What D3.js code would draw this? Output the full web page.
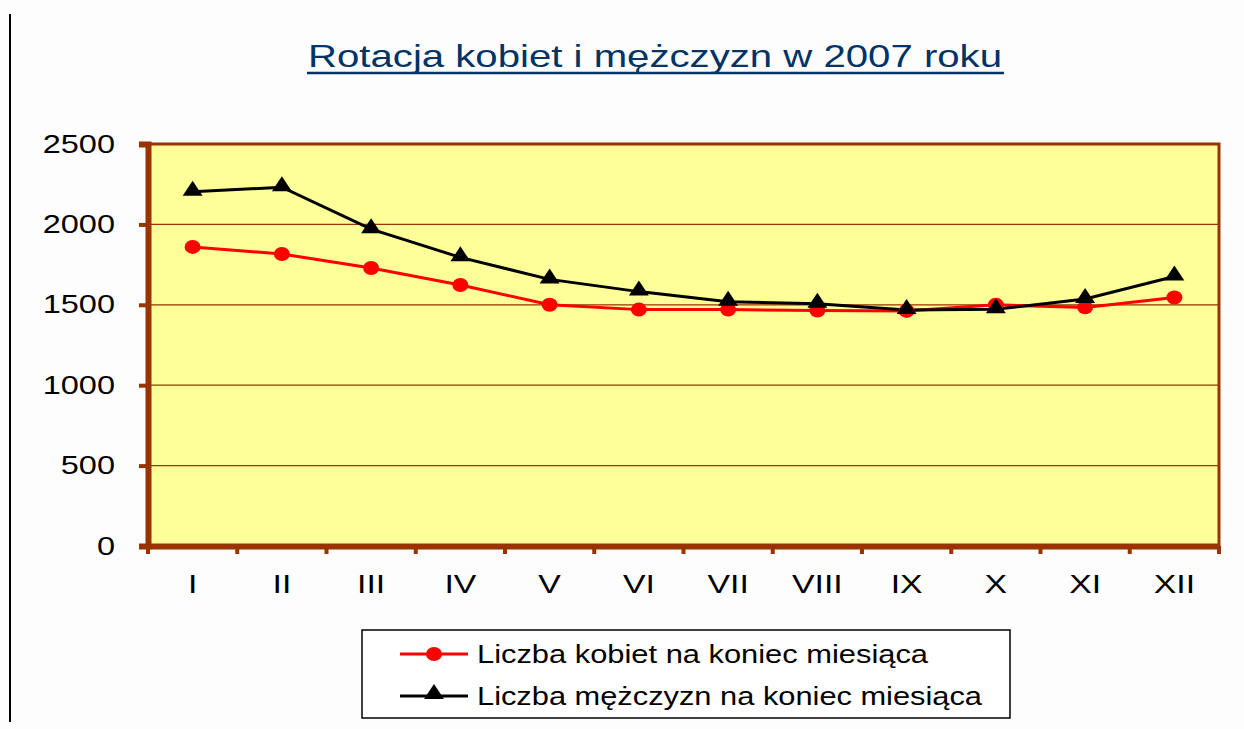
<!DOCTYPE html>
<html>
<head>
<meta charset="utf-8">
<script src="https://cdn.jsdelivr.net/npm/d3@7"></script>
<style>
  body { margin: 0; background: #fdfdfd; }
  svg { font-family: "Liberation Sans", Arial, sans-serif; }
</style>
</head>
<body>
<svg id="chart" width="1244" height="729"></svg>
<script>
var months = ["I", "II", "III", "IV", "V", "VI", "VII", "VIII", "IX", "X", "XI", "XII"];
var kobiety = [1860, 1816, 1729, 1623, 1500, 1470, 1470, 1465, 1462, 1500, 1484, 1545];
var mezczyzni = [2203, 2231, 1970, 1795, 1658, 1582, 1519, 1506, 1468, 1472, 1536, 1676];
var yTicks = [0, 500, 1000, 1500, 2000, 2500];
var seriesNames = ["Liczba kobiet na koniec miesiąca", "Liczba mężczyzn na koniec miesiąca"];

var svg = d3.select("#chart");
var pLeft = 148, pRight = 1219, pTop = 144, pBottom = 546;
var brown = "#993300";

// the source image is stretched sideways, so widen the glyphs a bit
function stretch(sel, f) {
  sel.each(function() {
    var w = this.getComputedTextLength();
    d3.select(this).attr("textLength", w * f).attr("lengthAdjust", "spacingAndGlyphs");
  });
}

var x = d3.scaleBand().domain(months).range([pLeft, pRight]);
var y = d3.scaleLinear().domain([0, 2500]).range([pBottom, pTop]);

// left frame line
svg.append("line").attr("x1", 10).attr("x2", 10).attr("y1", 14).attr("y2", 722)
  .attr("stroke", "#000").attr("stroke-width", 2);

// title
var title = svg.append("text").attr("x", 655).attr("y", 67).attr("text-anchor", "middle")
  .attr("font-size", 32).attr("fill", "#003366")
  .attr("textLength", 694).attr("lengthAdjust", "spacingAndGlyphs")
  .text("Rotacja kobiet i mężczyzn w 2007 roku");
svg.append("line").attr("x1", 307).attr("x2", 1004).attr("y1", 73).attr("y2", 73)
  .attr("stroke", "#003366").attr("stroke-width", 2.5);

// plot area
svg.append("rect").attr("x", pLeft).attr("y", pTop).attr("width", pRight - pLeft).attr("height", pBottom - pTop)
  .attr("fill", "#ffff99").attr("stroke", brown).attr("stroke-width", 3);

svg.selectAll(".grid").data(yTicks.slice(1, -1)).enter().append("line")
  .attr("x1", pLeft).attr("x2", pRight).attr("y1", d => y(d)).attr("y2", d => y(d))
  .attr("stroke", brown).attr("stroke-width", 1.2);

// y axis
var yAxis = svg.append("g").attr("transform", "translate(" + pLeft + ",0)")
  .call(d3.axisLeft(y).tickValues(yTicks).tickFormat(d3.format("d")).tickSize(9).tickPadding(24));
yAxis.select(".domain").attr("stroke", brown).attr("stroke-width", 6);
yAxis.selectAll(".tick line").attr("stroke", brown).attr("stroke-width", 4);
yAxis.selectAll("text").attr("font-size", 25).attr("fill", "#000")
  .attr("font-family", "Liberation Sans, Arial, sans-serif");
stretch(yAxis.selectAll("text"), 1.3);

// x axis
var xTickPos = d3.range(months.length + 1).map(i => pLeft + i * x.step());
var xAxis = svg.append("g").attr("transform", "translate(0," + pBottom + ")")
  .call(d3.axisBottom(x).tickSize(0).tickPadding(29));
xAxis.select(".domain").attr("stroke", brown).attr("stroke-width", 6);
xAxis.selectAll("text").attr("font-size", 26).attr("fill", "#000")
  .attr("font-family", "Liberation Sans, Arial, sans-serif");
stretch(xAxis.selectAll("text"), 1.3);
xAxis.selectAll(".xt").data(xTickPos).enter().append("line")
  .attr("x1", d => d).attr("x2", d => d).attr("y1", 0).attr("y2", 8)
  .attr("stroke", brown).attr("stroke-width", 4);

var line = d3.line().x((d, i) => x(months[i]) + x.bandwidth() / 2).y(d => y(d));
var tri = d3.symbol().type(d3.symbolTriangle).size(130);

svg.append("path").datum(kobiety).attr("d", line).attr("fill", "none")
  .attr("stroke", "#ff0000").attr("stroke-width", 3);
svg.append("path").datum(mezczyzni).attr("d", line).attr("fill", "none")
  .attr("stroke", "#000").attr("stroke-width", 3);

svg.selectAll(".dot").data(kobiety).enter().append("ellipse")
  .attr("cx", (d, i) => x(months[i]) + x.bandwidth() / 2).attr("cy", d => y(d))
  .attr("rx", 8).attr("ry", 7).attr("fill", "#ff0000");
svg.selectAll(".tri").data(mezczyzni).enter().append("path")
  .attr("d", tri)
  .attr("transform", (d, i) => "translate(" + (x(months[i]) + x.bandwidth() / 2) + "," + (y(d) - 1) + ") scale(1.15,1)")
  .attr("fill", "#000");

// legend
var lg = svg.append("g");
lg.append("rect").attr("x", 362).attr("y", 630).attr("width", 648).attr("height", 88)
  .attr("fill", "#fff").attr("stroke", "#000").attr("stroke-width", 1.5);
var rows = [{c: "#ff0000", y: 654, w: 451}, {c: "#000", y: 696, w: 505}];
rows.forEach(function(r, i) {
  lg.append("line").attr("x1", 400).attr("x2", 468).attr("y1", r.y).attr("y2", r.y)
    .attr("stroke", r.c).attr("stroke-width", 3);
  if (i == 0) {
    lg.append("ellipse").attr("cx", 434).attr("cy", r.y).attr("rx", 8).attr("ry", 7).attr("fill", r.c);
  } else {
    lg.append("path").attr("d", tri).attr("transform", "translate(434," + (r.y - 2) + ") scale(1.15,1)").attr("fill", r.c);
  }
  lg.append("text").attr("x", 477).attr("y", r.y + 9).attr("font-size", 25).attr("fill", "#000")
    .attr("textLength", r.w).attr("lengthAdjust", "spacingAndGlyphs")
    .text(seriesNames[i]);
});
</script>
</body>
</html>
